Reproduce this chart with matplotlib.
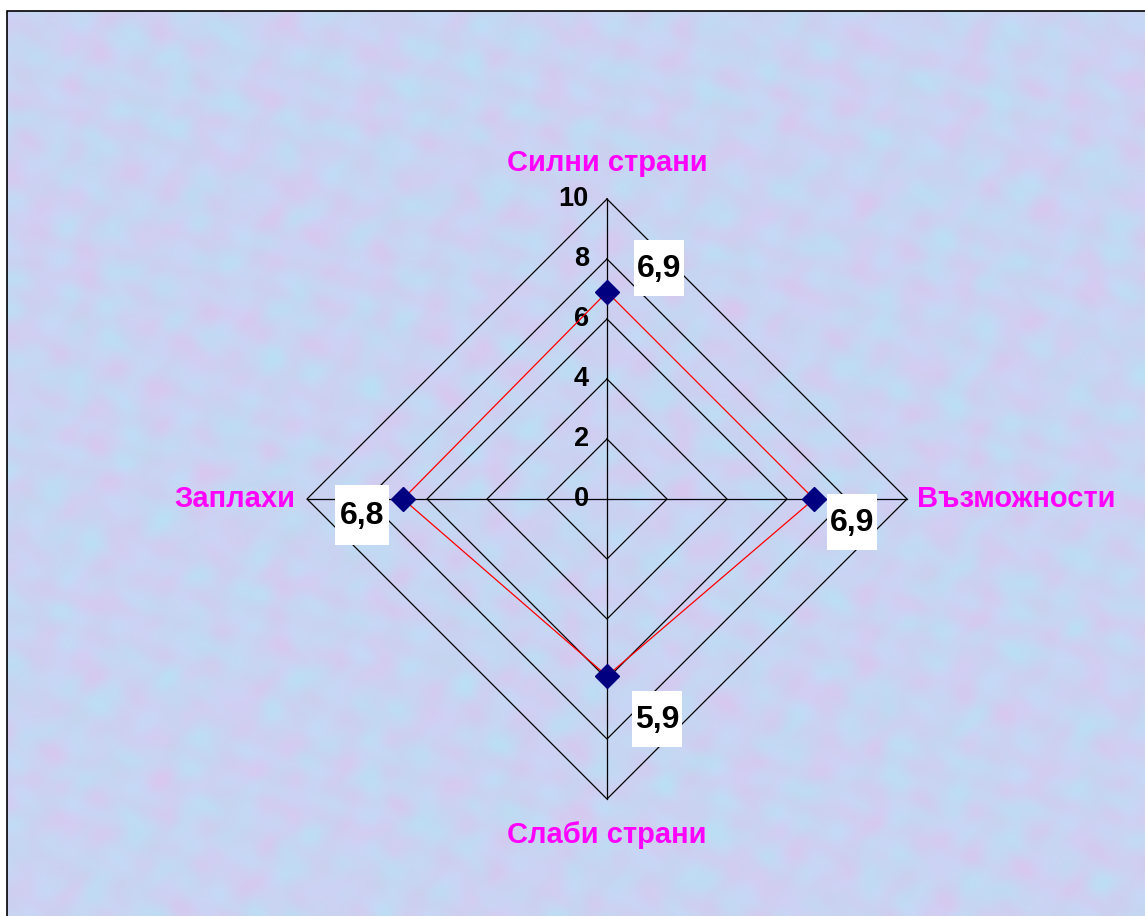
import numpy as np
import matplotlib.pyplot as plt
from matplotlib.patches import Rectangle
from matplotlib.transforms import offset_copy

plt.rcParams['font.family'] = ['Liberation Sans', 'DejaVu Sans']

categories = ['Силни страни', 'Възможности', 'Слаби страни', 'Заплахи']
values = [6.9, 6.9, 5.9, 6.8]
value_labels = ['6,9', '6,9', '5,9', '6,8']
ticks = [0, 2, 4, 6, 8, 10]

W, H = 1145, 916
fig = plt.figure(figsize=(W / 100, H / 100), dpi=100)

# textured pastel background (decorative, deterministic)
bg = fig.add_axes([7 / W, 0, 1 - 7 / W, 1 - 11 / H])
yy, xx = np.mgrid[0:300, 0:380] / 10.0
t1 = (np.sin(xx * 1.3 + 2 * np.cos(yy * 0.7)) * np.cos(yy * 1.7 + 1.5 * np.sin(xx * 0.6))
      + 0.6 * np.sin(xx * 3.1 + yy * 2.2 + np.cos(xx * 1.9)) * np.sin(yy * 2.7 - xx * 0.8))
t2 = (np.sin(xx * 2.3 - yy * 1.9 + np.sin(yy * 1.1)) * np.cos(xx * 0.9 + yy * 2.9)
      + 0.6 * np.cos(xx * 4.3 + np.sin(yy * 3.7)) * np.sin(yy * 3.3 + np.cos(xx * 2.1)))
base = np.array([0.79, 0.83, 0.95])
pink = np.array([0.045, -0.03, 0.0])
cyan = np.array([-0.035, 0.035, 0.015])
img = base + t1[..., None] * pink * 0.55 + t2[..., None] * cyan * 0.55
bg.imshow(np.clip(img, 0, 1), aspect='auto', interpolation='bilinear')
bg.set_axis_off()
fig.add_artist(Rectangle((7 / W, -0.01), 1.02, 1 - 11 / H + 0.01,
                         transform=fig.transFigure, fill=False,
                         edgecolor='black', linewidth=1.2))

# radar axes: 1 unit = 30 px, centre at pixel (607, 499)
cx, cy, s = 607, 499, 30.0
ax = fig.add_axes([0, 0, 1, 1])
ax.set_xlim(-cx / s, (W - cx) / s)
ax.set_ylim(-(H - cy) / s, cy / s)
ax.patch.set_alpha(0)
ax.set_axis_off()

angles = np.pi / 2 - np.arange(len(categories)) * 2 * np.pi / len(categories)
ca, sa = np.cos(angles), np.sin(angles)

for r in ticks[1:]:
    ax.plot(np.append(r * ca, r * ca[0]), np.append(r * sa, r * sa[0]),
            color='black', lw=0.9, zorder=2)
for c, si in zip(ca, sa):
    ax.plot([0, 10 * c], [0, 10 * si], color='black', lw=0.9, zorder=2)

for r in ticks:
    ax.text(-0.6, r, str(r), ha='right', va='center', fontsize=19.5,
            fontweight='bold', color='black', zorder=3)

vals = np.array(values)
px, py = vals * ca, vals * sa
ax.plot(np.append(px, px[0]), np.append(py, py[0]), color='red', lw=0.9, zorder=3)
ax.plot(px, py, 'D', color='#000080', markersize=12, ls='none', zorder=7)

label_pos = [(0, 11.2, 'center', 'center'), (10.35, 0, 'left', 'center'),
             (0, -11.2, 'center', 'center'), (-10.4, 0, 'right', 'center')]
for name, (lx, ly, ha, va) in zip(categories, label_pos):
    ax.text(lx, ly, name, ha=ha, va=va, fontsize=21, fontweight='bold',
            color='#ff00ff', zorder=3)

# data labels in white boxes (offsets and box sizes in pixels)
offsets = [(52, 24), (38, -23), (50, -43), (-41, -16)]
box_sizes = [(50, 56), (50, 56), (50, 56), (54, 60)]
for x, y, lab, (dx, dy), (bw, bh) in zip(px, py, value_labels, offsets, box_sizes):
    tr = offset_copy(ax.transData, fig=fig, x=dx, y=dy, units='dots')
    ax.add_patch(Rectangle((x - bw / 2 / s, y - bh / 2 / s), bw / s, bh / s,
                           transform=tr, fc='white', ec='none', zorder=5))
    ax.text(x, y - 1 / s, lab, transform=tr, ha='center', va='center',
            fontsize=23, fontweight='bold', color='black', zorder=6)

fig.savefig('out.png', dpi=100)
